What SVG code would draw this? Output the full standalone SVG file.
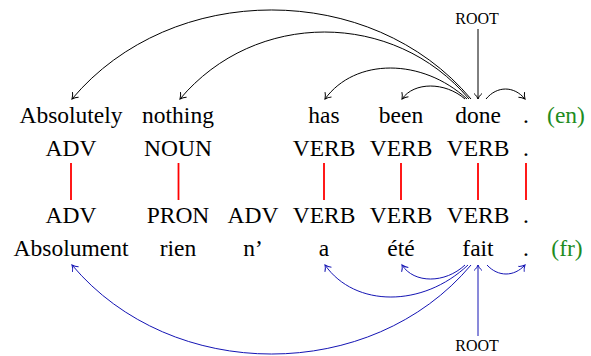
<svg xmlns="http://www.w3.org/2000/svg" width="591" height="356" viewBox="0 0 591 356">
<style>
text{font-family:'Liberation Serif','DejaVu Serif',serif;text-anchor:middle;fill:#000}
.w{font-size:23.5px}
.root{font-size:16px}
.lang{fill:#1e8c1e}
.arcK{fill:none;stroke:#000;stroke-width:1;marker-end:url(#ak)}
.arcB{fill:none;stroke:#1414b4;stroke-width:1;marker-end:url(#ab)}
.align{stroke:#f00;stroke-width:1.8}
</style>
<defs>
<marker id="ak" markerUnits="userSpaceOnUse" orient="auto" refX="0" refY="0" markerWidth="12" markerHeight="12" overflow="visible">
<path d="M-5.5,-4 C-3.5,-1.5 -1,-0.4 0,0 C-1,0.4 -3.5,1.5 -5.5,4" fill="none" stroke="#000" stroke-width="1"/>
</marker>
<marker id="ab" markerUnits="userSpaceOnUse" orient="auto" refX="0" refY="0" markerWidth="12" markerHeight="12" overflow="visible">
<path d="M-5.5,-4 C-3.5,-1.5 -1,-0.4 0,0 C-1,0.4 -3.5,1.5 -5.5,4" fill="none" stroke="#1414b4" stroke-width="1"/>
</marker>
</defs>

<g id="en-words">
<g id="en-w1"><text class="w" x="71" y="123">Absolutely</text></g>
<g id="en-w2"><text class="w" x="178" y="123">nothing</text></g>
<g id="en-w3"><text class="w" x="324" y="123">has</text></g>
<g id="en-w4"><text class="w" x="401" y="123">been</text></g>
<g id="en-w5"><text class="w" x="478" y="123">done</text></g>
<g id="en-w6"><text class="w" x="526" y="123">.</text></g>
<g id="en-lang"><text class="w lang" x="566" y="123">(en)</text></g>
</g>
<g id="en-pos">
<g id="en-p1"><text class="w" x="71" y="156">ADV</text></g>
<g id="en-p2"><text class="w" x="178" y="156">NOUN</text></g>
<g id="en-p3"><text class="w" x="324" y="156">VERB</text></g>
<g id="en-p4"><text class="w" x="401" y="156">VERB</text></g>
<g id="en-p5"><text class="w" x="478" y="156">VERB</text></g>
<g id="en-p6"><text class="w" x="526" y="156">.</text></g>
</g>
<g id="fr-pos">
<g id="fr-p1"><text class="w" x="71" y="223">ADV</text></g>
<g id="fr-p2"><text class="w" x="178" y="223">PRON</text></g>
<g id="fr-p3"><text class="w" x="253" y="223">ADV</text></g>
<g id="fr-p4"><text class="w" x="324" y="223">VERB</text></g>
<g id="fr-p5"><text class="w" x="401" y="223">VERB</text></g>
<g id="fr-p6"><text class="w" x="478" y="223">VERB</text></g>
<g id="fr-p7"><text class="w" x="526" y="223">.</text></g>
</g>
<g id="fr-words">
<g id="fr-w1"><text class="w" x="71" y="256">Absolument</text></g>
<g id="fr-w2"><text class="w" x="178" y="256">rien</text></g>
<g id="fr-w3"><text class="w" x="253" y="256">n’</text></g>
<g id="fr-w4"><text class="w" x="324" y="256">a</text></g>
<g id="fr-w5"><text class="w" x="401" y="256">été</text></g>
<g id="fr-w6"><text class="w" x="478" y="256">fait</text></g>
<g id="fr-w7"><text class="w" x="526" y="256">.</text></g>
<g id="fr-lang"><text class="w lang" x="567" y="256">(fr)</text></g>
</g>
<g id="root-en"><text class="root" x="477" y="24">ROOT</text></g>
<g id="root-fr"><text class="root" x="477" y="351">ROOT</text></g>

<g id="connectors">
<g id="alignments">
<line class="align" x1="71" y1="163" x2="71" y2="200"/>
<line class="align" x1="178.5" y1="163" x2="178.5" y2="200"/>
<line class="align" x1="324" y1="163" x2="324" y2="200"/>
<line class="align" x1="401" y1="163" x2="401" y2="200"/>
<line class="align" x1="478" y1="163" x2="478" y2="200"/>
<line class="align" x1="526" y1="163" x2="526" y2="200"/>
</g>
<g id="en-arcs">
<path class="arcK" d="M471,99 C371.3,-19.7 171.7,-19.7 72,99"/>
<path class="arcK" d="M469,99 C394,9.7 255,9.7 180,99"/>
<path class="arcK" d="M467,99 C422,57.7 355,57.7 325,99"/>
<path class="arcK" d="M465,99 C445,81.7 414,81.7 402,99"/>
<path class="arcK" d="M486,99 C497,85.7 514,85.7 525,99"/>
<path class="arcK" d="M478,29 L478,99"/>
</g>
<g id="fr-arcs">
<path class="arcB" d="M471,265 C371.3,383.7 171.7,383.7 72,265"/>
<path class="arcB" d="M468,265 C423,307.7 355,307.7 325,265"/>
<path class="arcB" d="M465,265 C445,283.7 414,283.7 402,265"/>
<path class="arcB" d="M487,265 C498,277 514,277 525,265"/>
<path class="arcB" d="M478,336 L478,265"/>
</g>
</g>
</svg>
